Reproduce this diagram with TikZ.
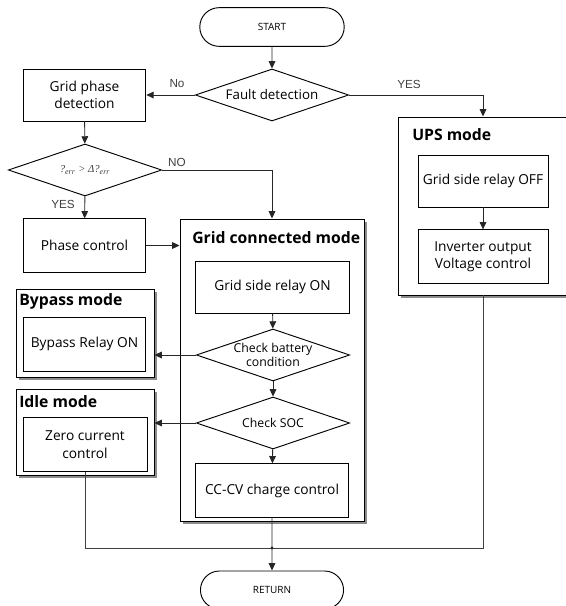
\documentclass[tikz,border=0pt]{standalone}
\usepackage{fontspec}
\setmainfont{Open Sans}
\newfontfamily\answerfont{Liberation Sans}
\newfontfamily\greekfont{Liberation Serif}
\usetikzlibrary{shapes.geometric,shapes.misc,shadows,arrows.meta}

\tikzset{
  box/.style={draw, fill=white, line width=0.7pt, inner sep=1pt, align=center,
    font=\fontsize{10.3}{13}\selectfont},
  procbox/.style={box, minimum width=92pt, minimum height=39pt},
  widebox/.style={box, minimum width=115pt, minimum height=39pt},
  decision/.style={diamond, draw, fill=white, line width=0.7pt, aspect=3, inner sep=0pt,
    align=center, minimum width=115pt, minimum height=39pt,
    font=\fontsize{10}{12}\selectfont},
  terminal/.style={rounded rectangle, draw, line width=0.7pt, minimum width=115pt,
    minimum height=29pt, font=\fontsize{7.5}{9}\selectfont},
  modebox/.style={draw, fill=white, line width=0.7pt, inner sep=0pt,
    drop shadow={shadow xshift=2.2pt, shadow yshift=-2.2pt, fill=black!45, opacity=1}},
  modetitle/.style={anchor=west, inner sep=0pt, font=\bfseries\fontsize{11.8}{14}\selectfont},
  flow/.style={-{Triangle[length=5.5pt,width=5pt]}, line width=0.7pt, draw=black!85},
  joinline/.style={line width=0.7pt, draw=black!75},
  answer/.style={inner sep=0pt, text=black!75, font=\answerfont\fontsize{8.8}{10}\selectfont}
}

\begin{document}
\begin{tikzpicture}[x=0.75pt, y=-0.75pt]

    \useasboundingbox (0,0) rectangle (566,606);
    \clip (0,0) rectangle (566,606);

    %The mode frames
    \node[modebox, minimum width=138pt, minimum height=226.5pt] (gcm) at (272,370) {};
    \node[modebox, minimum width=103.5pt, minimum height=66pt] (bypass) at (85,333) {};
    \node[modebox, minimum width=103.5pt, minimum height=64.5pt] (idle) at (85,432) {};
    \node[modebox, minimum width=127.5pt, minimum height=133.5pt] (ups) at (483,206) {};

    \node[modetitle] (gcmtitle) at (192,238) {Grid connected mode};
    \node[modetitle] (bypasstitle) at (19,301) {Bypass mode};
    \node[modetitle] (idletitle) at (19,402) {Idle mode};
    \node[modetitle] (upstitle) at (412,135) {UPS mode};

    %The main column
    \node[terminal] (start) at (272,27) {START};
    \node[decision] (fault) at (272,95) {Fault detection};
    \node[procbox] (phasedet) at (84.5,95) {Grid phase\\detection};
    \node[decision] (theta) at (85,170)
        {\greekfont\itshape\color{black!75}\fontsize{8}{10}\selectfont ?\textsubscript{err} > Δ?\textsubscript{err}};
    \node[procbox, minimum height=40pt] (phasectrl) at (84.5,245.5) {Phase control};

    \node[widebox] (relayon) at (272.5,287) {Grid side relay ON};
    \node[decision, font=\fontsize{9.2}{10.5}\selectfont] (battery) at (273,355) {Check battery\\condition};
    \node[decision, font=\fontsize{9.2}{10.5}\selectfont] (soc) at (273,423) {Check SOC};
    \node[widebox, minimum height=40pt] (cccv) at (272,490.5) {CC-CV charge control};

    \node[procbox, minimum height=40.5pt] (bypassrelay) at (84.5,344) {Bypass Relay ON};
    \node[procbox, minimum width=93pt, minimum height=40pt] (zero) at (85,444.5) {Zero current\\control};

    \node[box, minimum width=97.5pt, minimum height=39pt] (relayoff) at (483,181) {Grid side relay OFF};
    \node[box, minimum width=97.5pt, minimum height=40pt] (inverter) at (483,256.5) {Inverter output\\Voltage control};

    \node[terminal, minimum width=114pt, minimum height=28.5pt] (return) at (272,590) {RETURN};
    \coordinate (merge) at (272,548);

    %The connectors
    \draw[flow] (start) -- (fault);
    \draw[flow] (fault.west) -- (phasedet.east);
    \draw[flow] (fault.east) -| (ups.north);
    \draw[flow] (phasedet) -- (theta);
    \draw[flow] (theta.east) -| (gcm.north);
    \draw[flow] (theta) -- (phasectrl);
    \draw[flow] (phasectrl.east) -- (phasectrl.east -| gcm.west);
    \draw[flow] (relayon) -- (battery);
    \draw[flow] (battery.west) -- (battery.west -| bypass.east);
    \draw[flow] (battery) -- (soc);
    \draw[flow] (soc.west) -- (soc.west -| idle.east);
    \draw[flow] (soc) -- (cccv);
    \draw[flow] (relayoff) -- (inverter);
    \draw[joinline] (zero.south) |- (merge);
    \draw[joinline] (ups.south) |- (merge);
    \draw[flow] (cccv) -- (return);
    \fill[black!85] (merge) circle (1.2pt);

    %The answers
    \node[answer] (no1) at (177,84) {No};
    \node[answer] (yes1) at (409,84) {YES};
    \node[answer] (no2) at (177,162) {NO};
    \node[answer] (yes2) at (63,204) {YES};

\end{tikzpicture}
\end{document}
